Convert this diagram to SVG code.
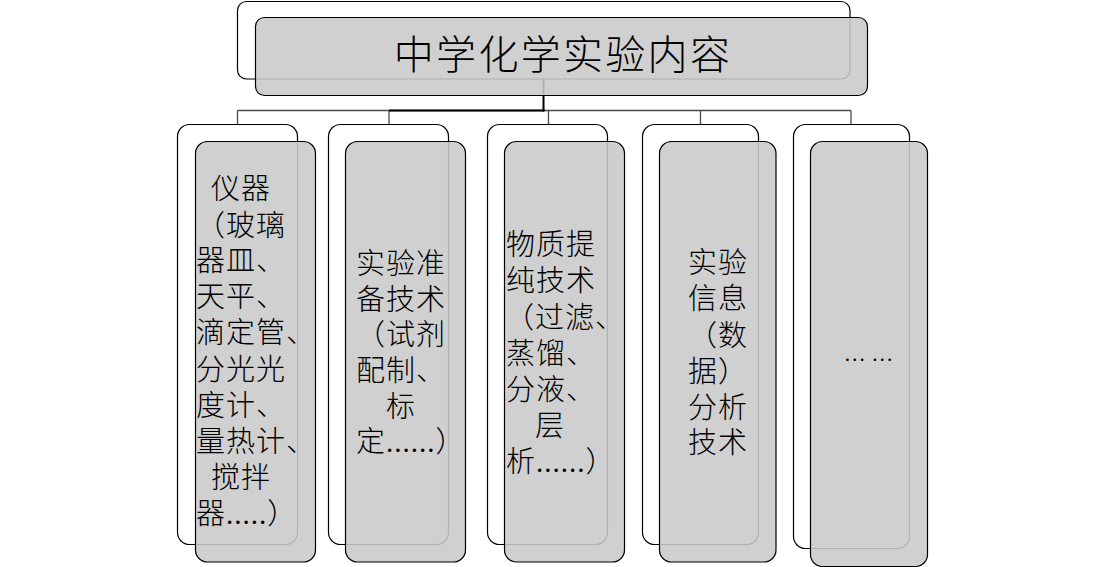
<svg xmlns="http://www.w3.org/2000/svg" width="1104" height="567" viewBox="0 0 1104 567">
<style>
.back{fill:#ffffff;stroke:#000000;stroke-width:1.2}
.front{fill:#cacaca;fill-opacity:0.88;stroke:#000000;stroke-width:1.2}
.conn{fill:none;stroke:#4a4a4a;stroke-width:1.3}
.main{fill:none;stroke:#000000;stroke-width:2}
.t{font-family:"Liberation Serif","Noto Sans CJK SC",serif;font-size:29px;font-weight:300;fill:#000;letter-spacing:1px}
.title{font-family:"Liberation Serif","Noto Sans CJK SC",serif;font-size:40px;font-weight:300;fill:#000;letter-spacing:2.3px}
</style>
<rect width="1104" height="567" fill="#ffffff"/>
<g id="connectors">
<line class="conn" x1="237.5" y1="110.5" x2="851" y2="110.5"/>
<line class="conn" x1="237.5" y1="110.5" x2="237.5" y2="124.5"/>
<line class="conn" x1="389" y1="110.5" x2="389" y2="124.5"/>
<line class="conn" x1="548.5" y1="110.5" x2="548.5" y2="124.5"/>
<line class="conn" x1="700.5" y1="110.5" x2="700.5" y2="124.5"/>
<line class="conn" x1="851" y1="110.5" x2="851" y2="124.5"/>
<line class="main" x1="389" y1="110.5" x2="544.5" y2="110.5"/>
<line class="main" x1="543.5" y1="79" x2="543.5" y2="111.5"/>
</g>
<g id="root">
<rect class="back" x="237.5" y="1.5" width="612.5" height="77.5" rx="9"/>
<rect class="front" x="255.5" y="17.5" width="612" height="78" rx="9"/>
<text class="title" x="563" y="68.5" text-anchor="middle">中学化学实验内容</text>
</g>
<g id="node1">
<rect class="back" x="177.5" y="124.5" width="120" height="420" rx="12"/>
<rect class="front" x="195.5" y="141.5" width="120" height="420.5" rx="12"/>
<text class="t">
<tspan x="211" y="199">仪器</tspan>
<tspan x="196" y="235.5">（玻璃</tspan>
<tspan x="196" y="271">器皿、</tspan>
<tspan x="196" y="307">天平、</tspan>
<tspan x="196" y="343">滴定管、</tspan>
<tspan x="196" y="379.5">分光光</tspan>
<tspan x="196" y="416">度计、</tspan>
<tspan x="196" y="452">量热计、</tspan>
<tspan x="211" y="488">搅拌</tspan>
<tspan x="196" y="524">器.....）</tspan>
</text>
</g>
<g id="node2">
<rect class="back" x="328.5" y="124.5" width="120" height="420" rx="12"/>
<rect class="front" x="345.5" y="141.5" width="120" height="420.5" rx="12"/>
<text class="t">
<tspan x="356" y="274">实验准</tspan>
<tspan x="356" y="309.5">备技术</tspan>
<tspan x="356" y="345">（试剂</tspan>
<tspan x="356" y="381">配制、</tspan>
<tspan x="386" y="417">标</tspan>
<tspan x="356" y="452">定......）</tspan>
</text>
</g>
<g id="node3">
<rect class="back" x="487.5" y="124.5" width="120" height="420" rx="12"/>
<rect class="front" x="504.5" y="141.5" width="120" height="420.5" rx="12"/>
<text class="t">
<tspan x="506" y="254.5">物质提</tspan>
<tspan x="506" y="291">纯技术</tspan>
<tspan x="505" y="327.5">（过滤、</tspan>
<tspan x="506" y="363.5">蒸馏、</tspan>
<tspan x="506" y="400">分液、</tspan>
<tspan x="535" y="436">层</tspan>
<tspan x="506" y="472">析......）</tspan>
</text>
</g>
<g id="node4">
<rect class="back" x="642.5" y="124.5" width="116" height="420" rx="12"/>
<rect class="front" x="659.5" y="141.5" width="116.5" height="420.5" rx="12"/>
<text class="t">
<tspan x="688" y="273">实验</tspan>
<tspan x="688" y="309">信息</tspan>
<tspan x="688" y="345.5">（数</tspan>
<tspan x="688" y="381.5">据）</tspan>
<tspan x="688" y="417.5">分析</tspan>
<tspan x="688" y="453">技术</tspan>
</text>
</g>
<g id="node5">
<rect class="back" x="793.5" y="124.5" width="116" height="424" rx="12"/>
<rect class="front" x="810.5" y="141.5" width="117" height="425" rx="12"/>
<text x="868.5" y="361" text-anchor="middle" style="font-family:'Liberation Serif',serif;font-size:22px;fill:#000">… …</text>
</g>
</svg>
